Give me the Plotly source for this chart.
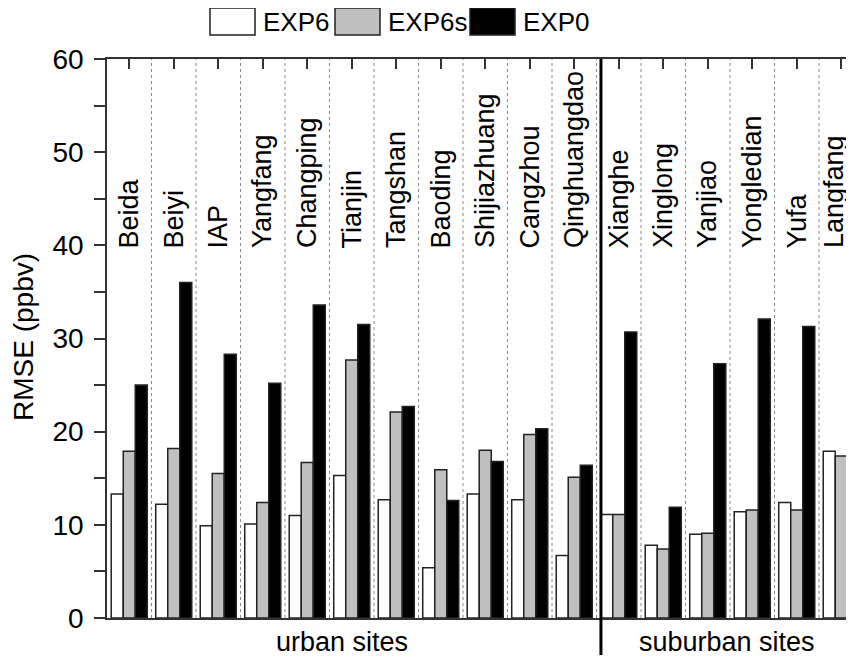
import plotly.graph_objects as go

sites = ["Beida", "Beiyi", "IAP", "Yangfang", "Changping", "Tianjin", "Tangshan",
         "Baoding", "Shijiazhuang", "Cangzhou", "Qinghuangdao",
         "Xianghe", "Xinglong", "Yanjiao", "Yongledian", "Yufa", "Langfang"]
exp6 = [13.3, 12.2, 9.9, 10.1, 11.0, 15.3, 12.7, 5.4, 13.3, 12.7, 6.7,
        11.1, 7.8, 9.0, 11.4, 12.4, 17.9]
exp6s = [17.9, 18.2, 15.5, 12.4, 16.7, 27.7, 22.1, 15.9, 18.0, 19.7, 15.1,
         11.1, 7.4, 9.1, 11.6, 11.6, 17.4]
exp0 = [25.0, 36.0, 28.3, 25.2, 33.6, 31.5, 22.7, 12.6, 16.8, 20.3, 16.4,
        30.7, 11.9, 27.3, 32.1, 31.3, 35.4]
series_names = ["EXP6", "EXP6s", "EXP0"]
series_colors = ["#ffffff", "#c0c0c0", "#000000"]
yticks = [0, 10, 20, 30, 40, 50, 60]
group_labels = ["urban sites", "suburban sites"]

# page offset of the figure inside the browser (body margin)
OFF = 8
W, H = 854, 660 - OFF
R = OFF
L, T, B = 107 - OFF, 59 - OFF, 618 - OFF
PW, PH = W - R - L, B - T
GROUP_PX = 44.5
FONT = "Liberation Sans, Arial, sans-serif"


def px_x(p):
    # p given in page pixels
    return (p - OFF - L) / PW


def px_y(p):
    return (B - (p - OFF)) / PH


xs = list(range(len(sites)))
fig = go.Figure()
for name, vals, col in zip(series_names, [exp6, exp6s, exp0], series_colors):
    fig.add_trace(go.Bar(x=xs, y=vals, name=name,
                         marker=dict(color=col, line=dict(color="#222222", width=1.5)),
                         showlegend=False))

shapes = []
for k in range(len(sites) - 1):
    shapes.append(dict(type="line", xref="x", yref="paper", x0=k + 0.5, x1=k + 0.5, y0=0, y1=1,
                       line=dict(color="#888888", width=1, dash="dot"), layer="below"))
shapes.append(dict(type="line", xref="x", yref="paper", x0=10.6, x1=10.6, y0=px_y(655), y1=1,
                   line=dict(color="#000000", width=3)))

annotations = []
for i, s in enumerate(sites):
    annotations.append(dict(x=i, y=40, xref="x", yref="y", yshift=-5,
                            xshift=-7 if i == len(sites) - 1 else 0, text=s, textangle=-90,
                            showarrow=False, xanchor="center", yanchor="bottom",
                            font=dict(size=27, color="#000", family=FONT)))

leg_boxes = [(210, 255), (335, 380), (470, 515)]
for (x0, x1), name, col in zip(leg_boxes, series_names, series_colors):
    shapes.append(dict(type="rect", xref="paper", yref="paper", x0=px_x(x0), x1=px_x(x1),
                       y0=px_y(35), y1=px_y(8), fillcolor=col,
                       line=dict(color="#222222", width=1.5)))
    annotations.append(dict(x=px_x(x1 + 6), y=px_y(22), xref="paper", yref="paper", text=name,
                            showarrow=False, xanchor="left", yanchor="middle",
                            font=dict(size=26, color="#000", family=FONT)))

annotations.append(dict(x=px_x(342), y=px_y(642), xref="paper", yref="paper", text=group_labels[0],
                        showarrow=False, xanchor="center", yanchor="middle",
                        font=dict(size=27, color="#000", family=FONT)))
annotations.append(dict(x=px_x(727), y=px_y(642), xref="paper", yref="paper", text=group_labels[1],
                        showarrow=False, xanchor="center", yanchor="middle",
                        font=dict(size=27, color="#000", family=FONT)))
annotations.append(dict(x=px_x(23), y=px_y(337), xref="paper", yref="paper", text="RMSE (ppbv)",
                        textangle=-90, showarrow=False, xanchor="center", yanchor="middle",
                        font=dict(size=28, color="#000", family=FONT)))

ytickvals = list(range(0, 61, 5))
yticktext = [str(v) if v in yticks else "" for v in ytickvals]

fig.update_layout(
    width=W, height=H,
    margin=dict(l=L, r=R, t=T, b=H - B, pad=0),
    paper_bgcolor="white", plot_bgcolor="white",
    barmode="group", bargap=0.19, bargroupgap=0,
    shapes=shapes, annotations=annotations,
    font=dict(family=FONT, color="#000"),
    xaxis=dict(range=[-0.5, -0.5 + PW / GROUP_PX], side="top", tickvals=xs, ticks="inside",
               ticklen=10, tickwidth=1.5, tickcolor="#333", showticklabels=False, showline=True,
               mirror=True, linecolor="#333", linewidth=1.5, showgrid=False, zeroline=False),
    yaxis=dict(range=[0, 60], tickvals=ytickvals, ticktext=yticktext, ticks="outside", ticklen=11,
               tickwidth=1.5, tickcolor="#333", showline=True, linecolor="#333", linewidth=1.5,
               showgrid=False, zeroline=False, tickfont=dict(size=28, color="#000", family=FONT),
               ticklabelstandoff=5),
)

fig.write_html("out.html")
